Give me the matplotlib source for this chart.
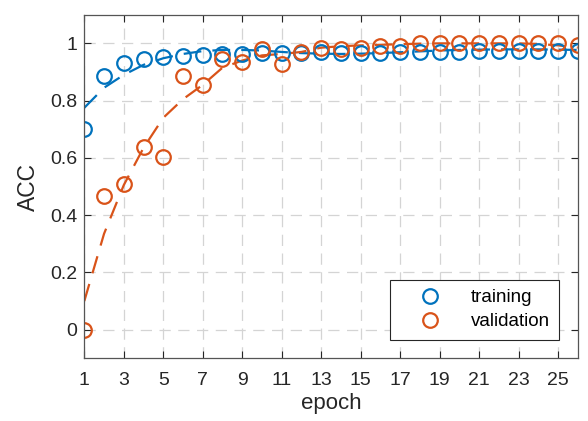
import numpy as np
import matplotlib.pyplot as plt

plt.rcParams['font.family'] = ['Liberation Sans', 'DejaVu Sans']

# measured accuracy per epoch
epochs = list(range(1, 27))
train_acc = [0.700, 0.885, 0.933, 0.944, 0.951, 0.957, 0.960, 0.963, 0.964, 0.966,
             0.967, 0.967, 0.970, 0.968, 0.968, 0.968, 0.969, 0.970, 0.971, 0.971,
             0.972, 0.972, 0.972, 0.973, 0.972, 0.973]
val_acc = [0.000, 0.466, 0.507, 0.637, 0.604, 0.886, 0.854, 0.945, 0.935, 0.982,
           0.927, 0.971, 0.985, 0.982, 0.983, 0.990, 0.990, 1.003, 1.000, 1.000,
           1.000, 1.003, 1.000, 1.003, 1.000, 0.995]

# fitted trend curves
train_fit = [0.775, 0.845, 0.890, 0.925, 0.948, 0.963, 0.973, 0.977, 0.977, 0.975,
             0.970, 0.966, 0.964, 0.963, 0.964, 0.966, 0.969, 0.972, 0.975, 0.977,
             0.978, 0.979, 0.979, 0.979, 0.978, 0.977]
val_fit = [0.100, 0.335, 0.505, 0.635, 0.740, 0.805, 0.855, 0.915, 0.940, 0.958,
           0.963, 0.970, 0.985, 0.990, 0.993, 0.995, 0.997, 0.999, 1.000, 1.000,
           1.000, 1.000, 1.000, 0.998, 0.993, 0.985]

blue = '#0072BD'
orange = '#D95319'
axcol = '#262626'

fig = plt.figure(figsize=(5.88, 4.21), dpi=100)
ax = fig.add_axes([0.1434, 0.149, 0.8391, 0.816])

ax.plot(epochs, train_fit, '--', color=blue, lw=1.6, dashes=(8, 5))
ax.plot(epochs, val_fit, '--', color=orange, lw=1.6, dashes=(8, 5))
ax.plot(epochs, train_acc, 'o', mfc='none', mec=blue, ms=10.5, mew=1.6, label='training')
ax.plot(epochs, val_acc, 'o', mfc='none', mec=orange, ms=10.5, mew=1.6, label='validation')

ax.set_xlim(1, 26)
ax.set_ylim(-0.1, 1.1)
ax.set_xticks(range(1, 26, 2))
ax.set_yticks([0, 0.2, 0.4, 0.6, 0.8, 1])
ax.set_yticklabels(['0', '0.2', '0.4', '0.6', '0.8', '1'])
ax.tick_params(direction='in', top=True, right=True, labelsize=14,
               colors=axcol, length=5, width=0.8)
ax.tick_params(axis='x', pad=10)
ax.tick_params(axis='y', pad=5)
ax.grid(True, linestyle=(0, (9, 6)), color='#d4d4d4', lw=0.9)
for s in ax.spines.values():
    s.set_color('#555555')
    s.set_linewidth(0.9)

ax.set_xlabel('epoch', fontsize=16, color=axcol, labelpad=3)
ax.set_ylabel('ACC', fontsize=16.5, color=axcol, labelpad=7)

leg = ax.legend(loc='lower right', fontsize=13.5, fancybox=False, framealpha=1,
                edgecolor=axcol, borderaxespad=1.0, handletextpad=0.5,
                handlelength=3.3, borderpad=0.5, labelspacing=0.35)
leg.get_frame().set_linewidth(0.8)

fig.savefig('out.png', dpi=100)
